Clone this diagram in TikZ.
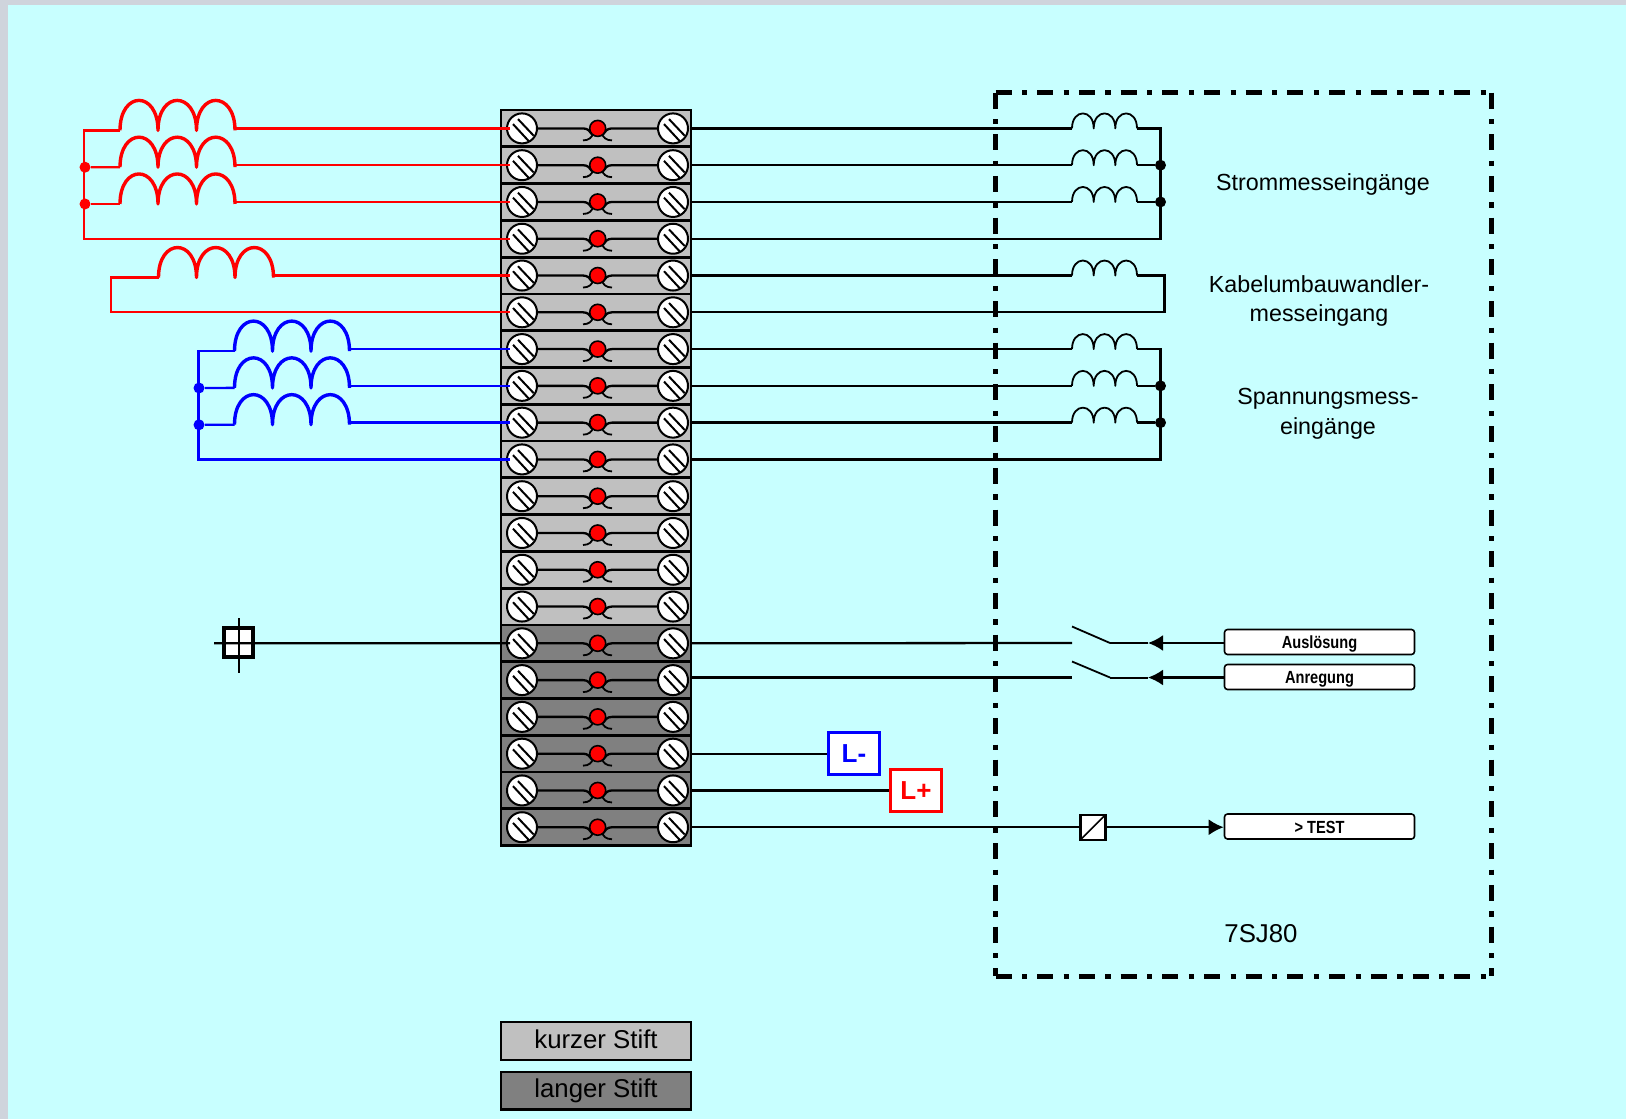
\documentclass[tikz,border=0pt]{standalone}
\usepackage{fontspec}
\setmainfont{Liberation Sans}
\usetikzlibrary{arrows.meta}
\definecolor{pagegray}{HTML}{CFD4DC}
\definecolor{bgcyan}{HTML}{C8FFFF}
\definecolor{shortpin}{HTML}{C0C0C0}
\definecolor{longpin}{HTML}{808080}
\tikzset{
  wire/.style={line width=1.15pt,black},
  redw/.style={line width=1.15pt,red},
  bluew/.style={line width=1.15pt,blue},
  coilred/.style={red,line width=1.7pt},
  coilblue/.style={blue,line width=1.7pt},
  framedash/.style={line width=2.5pt,black,dash pattern=on 8pt off 5.25pt on 2.6pt off 5pt},
  rowbox/.style={draw=black,line width=1.4pt,minimum width=95pt,minimum height=18.39pt,inner sep=0pt,outer sep=0pt},
  screw/.style={circle,draw=black,fill=white,line width=1pt,minimum size=15pt,inner sep=0pt,outer sep=0pt},
  pindot/.style={circle,draw=black,fill=red,line width=.8pt,minimum size=8pt,inner sep=0pt,outer sep=0pt},
  blackdot/.style={circle,fill=black,minimum size=5.5pt,inner sep=0pt},
  reddot/.style={circle,fill=red,minimum size=5.5pt,inner sep=0pt},
  bluedot/.style={circle,fill=blue,minimum size=5.5pt,inner sep=0pt},
  lab/.style={font=\fontsize{11.65}{13}\selectfont,inner sep=0pt},
  sigbox/.style={draw=black,fill=white,line width=.8pt,rounded corners=1.5pt,minimum width=95pt,minimum height=12.5pt,inner sep=0pt,text height=8pt,text depth=1.5pt,font=\fontsize{8.8}{9}\selectfont\bfseries},
  headline/.style={line width=1.1pt,black,-{Latex[length=7.5pt,width=8pt]}},
  supply/.style={line width=1.2pt,fill=white,minimum width=25.5pt,minimum height=21pt,inner sep=0pt,font=\fontsize{13}{15}\selectfont\bfseries},
  legendbox/.style={draw=black,line width=1.2pt,minimum width=95pt,minimum height=18.8pt,inner sep=0pt,text depth=.4pt,font=\fontsize{12.9}{14}\selectfont},
}
\newcommand{\coilshape}[4]{%
  % style, name, x, row index: the coil stands 2 units below its wire
  \pgfmathsetmacro\wy{128.4+36.78*#4}%
  \pgfmathsetmacro\by{\wy+2}%
  \pgfmathsetmacro\ty{\by-40}%
  \coordinate (#2-a) at (#3,\by);
  \coordinate (#2-b) at ({#3+115},\wy);
  \draw[#1,line join=round] (#3,\by)
    .. controls (#3,\ty) and ({#3+38},\ty) .. ({#3+38},\by)
    .. controls ({#3+38},\ty) and ({#3+76.5},\ty) .. ({#3+76.5},\by)
    .. controls ({#3+76.5},\ty) and ({#3+115},\ty) .. ({#3+115},\by);
}
\newcommand{\smallcoil}[3]{%
  \pgfmathsetmacro\wy{128.4+36.78*#3}%
  \pgfmathsetmacro\ty{\wy-20}%
  \coordinate (#1-a) at (#2,\wy);
  \coordinate (#1-b) at ({#2+65},\wy);
  \draw[line width=.9pt,black,line join=round] (#2,\wy)
    .. controls (#2,\ty) and ({#2+21.7},\ty) .. ({#2+21.7},\wy)
    .. controls ({#2+21.7},\ty) and ({#2+43.3},\ty) .. ({#2+43.3},\wy)
    .. controls ({#2+43.3},\ty) and ({#2+65},\ty) .. ({#2+65},\wy);
}
\begin{document}
\begin{tikzpicture}[x=0.5pt,y=-0.5pt]
\useasboundingbox (0,0) rectangle (1626,1119);
\fill[pagegray] (0,0) rectangle (1626,1119);
\fill[bgcyan] (8,5) rectangle (1626,1119);

% device frame
\coordinate (ftl) at (995.5,92.5);
\coordinate (ftr) at (1491,92.5);
\coordinate (fbl) at (995.5,976);
\coordinate (fbr) at (1491,976);
\draw[framedash] (ftl) -- (ftr);
\draw[framedash] (ftl) -- (fbl);
\draw[framedash] (fbl) -- (fbr);
\draw[framedash] (ftr) -- (fbr);

% terminal block
\foreach \i in {0,...,19}{
  \pgfmathsetmacro\ry{128.4+36.78*\i}
  \ifnum\i<14 \def\rowcol{shortpin}\else \def\rowcol{longpin}\fi
  \node[rowbox,fill=\rowcol] (row\i) at (596,\ry) {};
  \coordinate (L\i) at (510,\ry);
  \coordinate (R\i) at (691,\ry);
  \draw[wire] (522,\ry) -- (583,\ry) .. controls (588,\ry) and (590,\ry+3) .. (592,\ry+6);
  \draw[wire] (673,\ry) -- (612,\ry) .. controls (607,\ry) and (605,\ry+3) .. (603,\ry+6);
  \draw[line width=.9pt,black] (583,\ry+12) .. controls (589,\ry+12) and (592,\ry+9) .. (593,\ry+5);
  \draw[line width=.9pt,black] (612,\ry+12) .. controls (606,\ry+12) and (603,\ry+9) .. (602,\ry+5);
  \node[pindot] (pin\i) at (597.7,\ry) {};
  \node[screw] (sl\i) at (522,\ry) {};
  \node[screw] (sr\i) at (673,\ry) {};
  \draw[line width=1pt,black] (522-4,\ry-9.3) -- (522+11.7,\ry+7.3) (522-9,\ry-4.3) -- (522+7,\ry+13);
  \draw[line width=1pt,black] (673-4,\ry-9.3) -- (673+11.7,\ry+7.3) (673-9,\ry-4.3) -- (673+7,\ry+13);
}

% red current transformers
\coilshape{coilred}{ca}{120}{0}
\coilshape{coilred}{cb}{120}{1}
\coilshape{coilred}{cc}{120}{2}
\coordinate (rx) at (84,0);
\node[reddot] (rd1) at (85,167.2) {};
\node[reddot] (rd2) at (85,203.96) {};
\draw[redw] (ca-a) -| (rx |- L3) -- (L3);
\draw[redw] (cb-a) -- (rd1);
\draw[redw] (cc-a) -- (rd2);
\draw[redw] (ca-b) -- (L0);
\draw[redw] (cb-b) -- (L1);
\draw[redw] (cc-b) -- (L2);

% cable transformer
\coilshape{coilred}{cd}{158.5}{4}
\coordinate (kx) at (111,0);
\draw[redw] (cd-a) -| (kx |- L5) -- (L5);
\draw[redw] (cd-b) -- (L4);

% blue voltage transformers
\coilshape{coilblue}{ce}{234.5}{6}
\coilshape{coilblue}{cf}{234.5}{7}
\coilshape{coilblue}{cg}{234.5}{8}
\coordinate (bx) at (198.5,0);
\node[bluedot] (bd1) at (199,388) {};
\node[bluedot] (bd2) at (199,424.8) {};
\draw[bluew] (ce-a) -| (bx |- L9) -- (L9);
\draw[bluew] (cf-a) -- (bd1);
\draw[bluew] (cg-a) -- (bd2);
\draw[bluew] (ce-b) -- (L6);
\draw[bluew] (cf-b) -- (L7);
\draw[bluew] (cg-b) -- (L8);

% internal coils
\smallcoil{ia}{1072}{0}
\smallcoil{ib}{1072}{1}
\smallcoil{ic}{1072}{2}
\smallcoil{id}{1072}{4}
\smallcoil{ie}{1072}{6}
\smallcoil{if}{1072}{7}
\smallcoil{ig}{1072}{8}
\foreach \n/\r in {ia/0,ib/1,ic/2,id/4,ie/6,if/7,ig/8}{
  \draw[wire] (R\r) -- (\n-a);
}
\coordinate (jx) at (1160.5,0);
\coordinate (kjx) at (1164.5,0);
\node[blackdot] (jd1) at (jx |- R1) {};
\node[blackdot] (jd2) at (jx |- R2) {};
\draw[wire] (ia-b) -| (jx |- R3) -- (R3);
\draw[wire] (ib-b) -- (jd1);
\draw[wire] (ic-b) -- (jd2);
\draw[wire] (id-b) -| (kjx |- R5) -- (R5);
\node[blackdot] (jd3) at (jx |- R7) {};
\node[blackdot] (jd4) at (jx |- R8) {};
\draw[wire] (ie-b) -| (jx |- R9) -- (R9);
\draw[wire] (if-b) -- (jd3);
\draw[wire] (ig-b) -- (jd4);

% earth terminal
\node[draw=black,line width=2pt,fill=white,minimum size=14.5pt,inner sep=0pt,outer sep=0pt] (earth) at (238,642.5) {};
\coordinate (et) at (239,618);
\coordinate (eb) at (239,673);
\coordinate (el) at (214,643.3);
\draw[wire] (et) -- (eb);
\draw[wire] (el) -- (L14);

% signals
\node[sigbox] (ausl) at (1319.5,642) {\scalebox{.83}[1]{Auslösung}};
\node[sigbox] (anr) at (1319.5,677) {\scalebox{.83}[1]{Anregung}};
\node[sigbox] (test) at (1319.5,826.5) {\scalebox{.83}[1]{> TEST}};
\coordinate (sa) at (1110,643);
\coordinate (sb) at (1110,677.5);
\coordinate (sa0) at (1072,626.5);
\coordinate (sb0) at (1072,661.5);
\coordinate (sa1) at (1072,643);
\coordinate (sb1) at (1072,677.5);
\coordinate (ra) at (1148,643);
\coordinate (rb) at (1148,677.5);
\coordinate (R15b) at (691,677.5);
\draw[line width=.9pt] (sa0) -- (sa);
\draw[line width=.9pt] (sb0) -- (sb);
\draw[headline] (ausl.west |- ra) -- (ra);
\draw[line width=1pt] (ra) -- (sa);
\draw[headline] (anr.west |- rb) -- (rb);
\draw[line width=1pt] (rb) -- (sb);
\draw[wire] (R14) -- (sa1);
\draw[wire] (R15b) -- (sb1);

% supply
\node[supply,draw=blue,text=blue] (lminus) at (854,753.5) {L-};
\node[supply,draw=red,text=red] (lplus) at (916,790.5) {L+};
\draw[wire] (R17) -- (lminus.west |- R17);
\draw[wire] (R18) -- (lplus.west |- R18);

% test input
\coordinate (cx) at (1093,0);
\node[draw=black,line width=1.2pt,fill=white,minimum size=12.5pt,inner sep=0pt,outer sep=0pt] (conv) at (cx |- R19) {};
\draw[line width=.8pt] (conv.south west) -- (conv.north east);
\draw[wire] (R19) -- (conv.west);
\draw[headline] (conv.east) -- (test.west |- conv.east);

% labels
\node[lab] (l1) at (1323,184) {Strommesseingänge};
\node[lab] (l2) at (1319,284) {Kabelumbauwandler-};
\node[lab] (l3) at (1319,315) {messeingang};
\node[lab] (l4) at (1328,399) {Spannungsmess-};
\node[lab] (l5) at (1328,428) {eingänge};
\node[lab,font=\fontsize{12.9}{14}\selectfont] (l6) at (1261,933.5) {7SJ80};

% legend
\node[legendbox,fill=shortpin,text height=8.2pt] (k) at (596,1041) {kurzer Stift};
\node[legendbox,fill=longpin,text height=6.9pt] (g) at (596,1090.5) {langer Stift};
\end{tikzpicture}
\end{document}
